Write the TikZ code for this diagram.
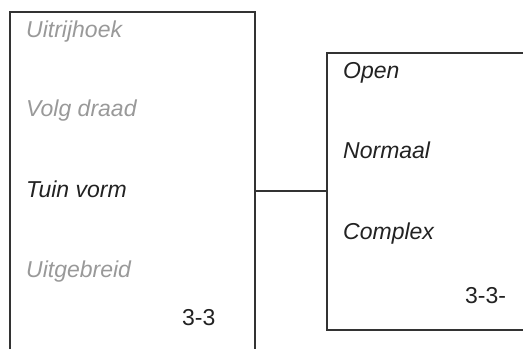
\documentclass[tikz,border=0pt]{standalone}
\usepackage{fontspec}
\setmainfont{Liberation Sans}
\definecolor{linegray}{HTML}{333333}
\definecolor{dimtext}{HTML}{999999}
\definecolor{darktext}{HTML}{222222}
\begin{document}
\begin{tikzpicture}[x=1pt,y=-1pt,
  boxline/.style={draw=linegray,line width=1.3pt},
  item/.style={anchor=base west,inner sep=0pt,font=\fontsize{23}{27}\selectfont\itshape},
  dimitem/.style={item,text=dimtext},
  blackitem/.style={item,text=darktext},
  code/.style={anchor=base west,inner sep=0pt,font=\fontsize{23}{27}\selectfont,text=darktext}]
\useasboundingbox (0,0) rectangle (523,349);
% left box (open at the bottom)
\coordinate (lbl) at (10,349);
\coordinate (ltl) at (10,12);
\coordinate (ltr) at (255,12);
\coordinate (lbr) at (255,349);
\draw[boxline] (lbl) -- (ltl) -- (ltr) -- (lbr);
% right box (open at the right)
\coordinate (rtr) at (523,53);
\coordinate (rtl) at (327,53);
\coordinate (rbl) at (327,330);
\coordinate (rbr) at (523,330);
\draw[boxline] (rtr) -- (rtl) -- (rbl) -- (rbr);
% connector
\coordinate (lout) at (255,191);
\coordinate (rin) at (327,191);
\draw[boxline] (lout) -- (rin);
% left texts
\node[dimitem] (t1) at (26,37) {Uitrijhoek};
\node[dimitem] (t2) at (26,116) {Volg draad};
\node[blackitem] (t3) at (26,197) {Tuin vorm};
\node[dimitem] (t4) at (26,277) {Uitgebreid};
\node[code] (t5) at (182,325) {3-3};
% right texts
\node[blackitem] (r1) at (343,78) {Open};
\node[blackitem] (r2) at (343,158) {Normaal};
\node[blackitem] (r3) at (343,239) {Complex};
\node[code] (r4) at (465,303) {3-3-};
\end{tikzpicture}
\end{document}
